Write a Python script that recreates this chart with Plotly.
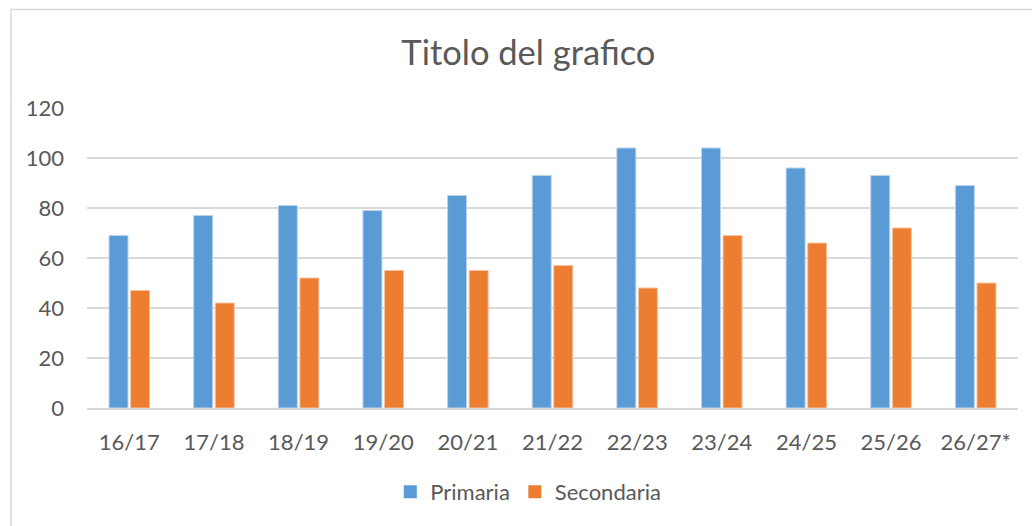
import plotly.graph_objects as go

categories = ["16/17", "17/18", "18/19", "19/20", "20/21", "21/22", "22/23", "23/24", "24/25", "25/26", "26/27*"]
primaria = [69, 77, 81, 79, 85, 93, 104, 104, 96, 93, 89]
secondaria = [47, 42, 52, 55, 55, 57, 48, 69, 66, 72, 50]
y_ticks = [0, 20, 40, 60, 80, 100, 120]

FONT = "Lato"
TXT = "#595959"
BLUE = "#5B9BD5"
ORANGE = "#ED7D31"

fig = go.Figure()
fig.add_trace(go.Bar(x=categories, y=primaria, name="Primaria", showlegend=False,
                     marker=dict(color=BLUE, line=dict(color="#B9D3EC", width=1))))
fig.add_trace(go.Bar(x=categories, y=secondaria, name="Secondaria", showlegend=False,
                     marker=dict(color=ORANGE, line=dict(color="#F6C3A0", width=1))))
# legend entries with square symbols
fig.add_trace(go.Scatter(x=[None], y=[None], mode="markers", name="Primaria",
                         marker=dict(symbol="square", size=13, color=BLUE)))
fig.add_trace(go.Scatter(x=[None], y=[None], mode="markers", name="Secondaria",
                         marker=dict(symbol="square", size=13, color=ORANGE)))

fig.update_layout(
    width=1032, height=526,
    margin=dict(l=87, r=14, t=108, b=118, autoexpand=False),
    paper_bgcolor="white", plot_bgcolor="white",
    barmode="group", bargap=0.49, bargroupgap=0.12,
    title=dict(text="Titolo del grafico", x=0.512, xanchor="center", y=0.9, yanchor="middle",
               font=dict(family=FONT, size=34.5, color=TXT)),
    font=dict(family=FONT, color=TXT, size=22),
    showlegend=True,
    legend=dict(orientation="h", x=0.474, xanchor="center", y=-0.28, yanchor="middle",
                font=dict(family=FONT, size=22, color=TXT), itemwidth=30,
                traceorder="normal"),
    xaxis=dict(showgrid=False, showline=True, linecolor="#D9D9D9", linewidth=1.5,
               ticks="", tickfont=dict(size=22, color=TXT), ticklabelstandoff=14),
    yaxis=dict(range=[0, 120], tickvals=y_ticks, showgrid=True, gridcolor="#D9D9D9",
               gridwidth=1.5, zeroline=False, showline=False, ticks="",
               tickfont=dict(size=22, color=TXT), ticklabelstandoff=22),
    shapes=[dict(type="rect", xref="paper", yref="paper",
                 x0=(11 - 87) / 931, x1=(1040 - 87) / 931,
                 y0=(408 - 540) / 300, y1=(408 - 9.5) / 300,
                 line=dict(color="#D9D9D9", width=1.5), fillcolor="rgba(0,0,0,0)", layer="below")],
)

fig.write_html("out.html", config={"displayModeBar": False},
               post_script="document.body.style.margin='0';document.body.style.overflow='hidden';")
